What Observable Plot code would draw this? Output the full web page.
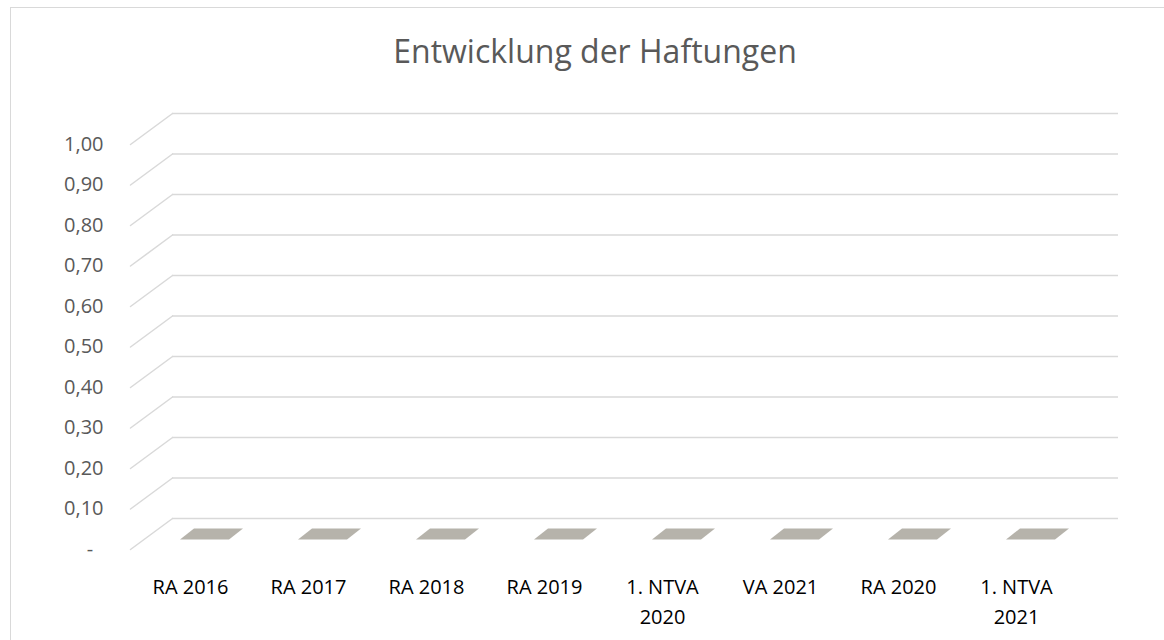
<!DOCTYPE html>
<html>
<head>
<meta charset="utf-8">
<script src="https://cdn.jsdelivr.net/npm/d3@7"></script>
<script src="https://cdn.jsdelivr.net/npm/@observablehq/plot@0.6"></script>
<style>
  html, body { margin: 0; padding: 0; background: #fff; }
  #wrap { position: relative; width: 1164px; height: 640px; overflow: hidden; font-family: "Open Sans", sans-serif; }
  #frame { position: absolute; left: 10px; top: 7px; width: 1200px; height: 700px; border: 1.5px solid #d9d9d9; box-sizing: border-box; pointer-events: none; }
  #title { position: absolute; left: 10px; width: 1170px; top: 35px; text-align: center; font-size: 32px; line-height: 1; color: #595959; }
  #chart { position: absolute; left: 0; top: 0; }
</style>
</head>
<body>
<div id="wrap">
  <div id="chart"></div>
  <div id="frame"></div>
  <div id="title">Entwicklung der Haftungen</div>
</div>
<script>
const categories = ["RA 2016", "RA 2017", "RA 2018", "RA 2019", "1. NTVA\n2020", "VA 2021", "RA 2020", "1. NTVA\n2021"];
const values = [0, 0, 0, 0, 0, 0, 0, 0];
const yTicks = [0, 0.1, 0.2, 0.3, 0.4, 0.5, 0.6, 0.7, 0.8, 0.9, 1.0];

const data = categories.map((c, i) => ({category: c, value: values[i]}));
const fmt = d => d === 0 ? "-\u00a0\u00a0" : d.toFixed(2).replace(".", ",");

const depthX = 42, depthY = 31;
const gridColor = "#d9d9d9";

// top face of a zero-height 3D bar
const barFace = {
  draw(ctx) {
    ctx.moveTo(-31.5, 5.5);
    ctx.lineTo(17.5, 5.5);
    ctx.lineTo(31.5, -5.5);
    ctx.lineTo(-17.5, -5.5);
    ctx.closePath();
  }
};

const chart = Plot.plot({
  width: 1164,
  height: 640,
  marginLeft: 130,
  marginRight: 88,
  marginTop: 144,
  marginBottom: 91,
  style: {background: "transparent", fontFamily: "Open Sans, sans-serif", fontSize: "20px"},
  x: {type: "point", domain: categories, padding: 0.5, axis: null},
  y: {domain: [0, 1], axis: null},
  marks: [
    Plot.ruleY(yTicks, {y: d => d, dx: depthX, dy: -depthY, stroke: gridColor, strokeWidth: 1.5}),
    Plot.vector(yTicks, {y: d => d, frameAnchor: "left", length: Math.hypot(depthX, depthY), rotate: Math.atan2(depthX, depthY) * 180 / Math.PI, anchor: "start", r: 0, stroke: gridColor, strokeWidth: 1.5}),
    Plot.dot(data, {x: "category", y: "value", symbol: barFace, fill: "#b6b3ab", stroke: null, dx: depthX / 2, dy: -depthY / 2}),
    Plot.text(yTicks, {y: d => d, frameAnchor: "left", textAnchor: "end", dx: -27, text: fmt, fill: "#595959", fontSize: 20}),
    Plot.text(data, {x: "category", frameAnchor: "bottom", lineAnchor: "top", dy: 23, lineHeight: 1.5, text: "category", fill: "#000", fontSize: 20})
  ]
});
document.getElementById("chart").appendChild(chart);
</script>
</body>
</html>
